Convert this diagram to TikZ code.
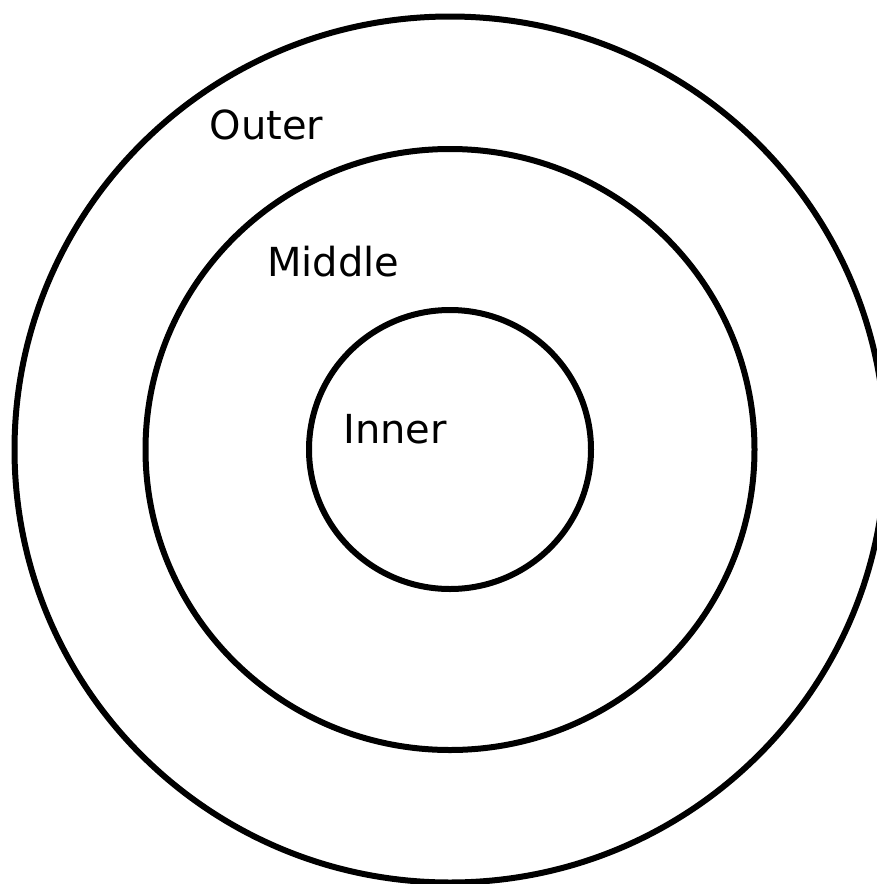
\documentclass[tikz,border=0pt]{standalone}
\usepackage{fontspec}
\setmainfont{DejaVu Sans}
\begin{document}
\begin{tikzpicture}[x=1pt,y=-1pt,
  ring/.style={draw=black,line width=6pt},
  lbl/.style={anchor=base west,inner sep=0pt,font=\fontsize{40}{48}\selectfont}]
\useasboundingbox (0,0) rectangle (877,884);
\fill[white] (0,0) rectangle (877,884);
\coordinate (c) at (450,449.5);
\draw[ring] (c) ellipse [x radius=435.5, y radius=433];
\draw[ring] (c) ellipse [x radius=304.5, y radius=300.5];
\draw[ring] (c) ellipse [x radius=141, y radius=139.5];
\node[lbl] (outer) at (209.5,139.3) {Outer};
\node[lbl] (middle) at (267,276.7) {Middle};
\node[lbl] (inner) at (343,443.3) {Inner};
\end{tikzpicture}
\end{document}
